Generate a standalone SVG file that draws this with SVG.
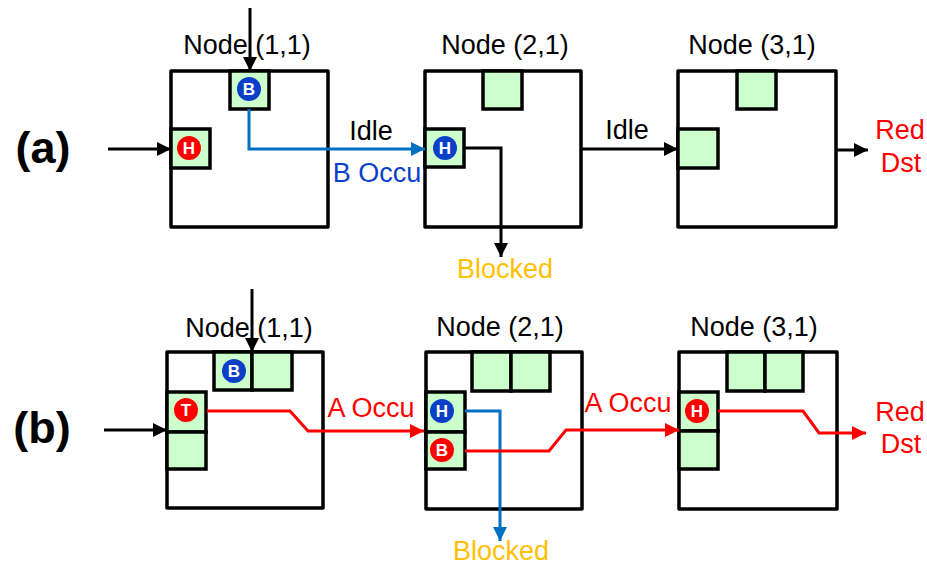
<svg xmlns="http://www.w3.org/2000/svg" width="927" height="567" viewBox="0 0 927 567">
<defs>
<style>
text{font-family:"Liberation Sans",Arial,sans-serif;}
.box{fill:#fff;stroke:#000;stroke-width:3.5;stroke-linejoin:round;}
.buf{fill:#CCFFCC;stroke:#000;stroke-width:3.5;}
.t{font-size:27px;text-anchor:middle;fill:#000;}
.lbl{font-size:45px;font-weight:bold;text-anchor:middle;fill:#000;}
.red{fill:#FF0000;}
.blue{fill:#0B3FC8;}
.org{fill:#FFC000;}
.cb{fill:#0B3FC8;}
.cr{fill:#FF0000;}
.ct{font-size:17px;font-weight:bold;fill:#fff;text-anchor:middle;}
.k{fill:none;stroke:#000;stroke-width:3;}
.bl{fill:none;stroke:#0070C0;stroke-width:3;}
.rd{fill:none;stroke:#FF0000;stroke-width:3;}
</style>
<marker id="ak" markerUnits="userSpaceOnUse" markerWidth="16" markerHeight="16" refX="14" refY="7" orient="auto"><path d="M0,0 L14,7 L0,14 Z" fill="#000"/></marker>
<marker id="ab" markerUnits="userSpaceOnUse" markerWidth="16" markerHeight="16" refX="14" refY="7" orient="auto"><path d="M0,0 L14,7 L0,14 Z" fill="#0070C0"/></marker>
<marker id="ar" markerUnits="userSpaceOnUse" markerWidth="16" markerHeight="16" refX="14" refY="7" orient="auto"><path d="M0,0 L14,7 L0,14 Z" fill="#FF0000"/></marker>
</defs>
<rect width="927" height="567" fill="#fff"/>

<text class="lbl" x="43" y="163">(a)</text>
<text class="lbl" x="42" y="443">(b)</text>

<!-- Row (a) -->
<g id="a-node11">
<rect class="box" x="171" y="71" width="157" height="156"/>
<rect class="buf" x="230" y="71" width="39" height="38"/>
<rect class="buf" x="171" y="129" width="39" height="39"/>
<circle class="cb" cx="249" cy="89" r="12"/>
<text class="ct" x="249" y="95">B</text>
<circle class="cr" cx="189" cy="148" r="12"/>
<text class="ct" x="189" y="154">H</text>
<text class="t" x="247" y="54">Node (1,1)</text>
</g>
<g id="a-node21">
<rect class="box" x="425" y="71" width="156" height="156"/>
<rect class="buf" x="483" y="71" width="39" height="38"/>
<rect class="buf" x="425" y="129" width="39" height="38"/>
<circle class="cb" cx="445" cy="148" r="12"/>
<text class="ct" x="445" y="154">H</text>
<text class="t" x="505" y="54">Node (2,1)</text>
</g>
<g id="a-node31">
<rect class="box" x="678" y="71" width="158" height="156"/>
<rect class="buf" x="737" y="71" width="39" height="38"/>
<rect class="buf" x="678" y="129" width="40" height="39"/>
<text class="t" x="752" y="54">Node (3,1)</text>
</g>

<!-- Row (b) -->
<g id="b-node11">
<rect class="box" x="167" y="352" width="156" height="156"/>
<rect class="buf" x="214" y="352" width="38" height="38"/>
<rect class="buf" x="252" y="352" width="40" height="38"/>
<rect class="buf" x="167" y="392" width="39" height="40"/>
<rect class="buf" x="167" y="432" width="39" height="37"/>
<circle class="cb" cx="234" cy="371" r="12"/>
<text class="ct" x="234" y="377">B</text>
<circle class="cr" cx="186" cy="410" r="12"/>
<text class="ct" x="186" y="416">T</text>
<text class="t" x="249" y="337">Node (1,1)</text>
</g>
<g id="b-node21">
<rect class="box" x="426" y="352" width="156" height="157"/>
<rect class="buf" x="472" y="352" width="39" height="39"/>
<rect class="buf" x="511" y="352" width="39" height="39"/>
<rect class="buf" x="426" y="392" width="39" height="40"/>
<rect class="buf" x="426" y="432" width="39" height="37"/>
<circle class="cb" cx="442" cy="411" r="12"/>
<text class="ct" x="442" y="417">H</text>
<circle class="cr" cx="442" cy="450" r="12"/>
<text class="ct" x="442" y="456">B</text>
<text class="t" x="500" y="336">Node (2,1)</text>
</g>
<g id="b-node31">
<rect class="box" x="679" y="352" width="158" height="157"/>
<rect class="buf" x="727" y="352" width="38" height="39"/>
<rect class="buf" x="765" y="352" width="38" height="39"/>
<rect class="buf" x="679" y="392" width="39" height="39"/>
<rect class="buf" x="679" y="431" width="39" height="38"/>
<circle class="cr" cx="697" cy="411" r="12"/>
<text class="ct" x="697" y="417">H</text>
<text class="t" x="754" y="336">Node (3,1)</text>
</g>

<g id="connectors">
<!-- row a -->
<line class="k" x1="250" y1="8" x2="250" y2="71" marker-end="url(#ak)"/>
<line class="k" x1="108" y1="149" x2="171" y2="149" marker-end="url(#ak)"/>
<polyline class="bl" points="249,109 249,149 425,149" marker-end="url(#ab)"/>
<polyline class="k" points="464,148 501,148 501,257" marker-end="url(#ak)"/>
<line class="k" x1="581" y1="149" x2="678" y2="149" marker-end="url(#ak)"/>
<line class="k" x1="836" y1="150" x2="868" y2="150" marker-end="url(#ak)"/>
<!-- row b -->
<line class="k" x1="252" y1="289" x2="252" y2="352" marker-end="url(#ak)"/>
<line class="k" x1="104" y1="430" x2="167" y2="430" marker-end="url(#ak)"/>
<polyline class="rd" points="207,411 290,411 308,431 424,431" marker-end="url(#ar)"/>
<polyline class="bl" points="465,411 500,411 500,541" marker-end="url(#ab)"/>
<polyline class="rd" points="465,451 549,451 566,430 679,430" marker-end="url(#ar)"/>
<polyline class="rd" points="718,411 803,411 819,433 866,433" marker-end="url(#ar)"/>
</g>

<g id="labels">
<text class="t" x="371" y="140">Idle</text>
<text class="t blue" x="377" y="182">B Occu</text>
<text class="t org" x="505" y="278">Blocked</text>
<text class="t" x="627" y="139">Idle</text>
<text class="t red" x="900" y="139">Red</text>
<text class="t red" x="901" y="172">Dst</text>
<text class="t red" x="371" y="417">A Occu</text>
<text class="t red" x="628" y="412">A Occu</text>
<text class="t org" x="501" y="560">Blocked</text>
<text class="t red" x="900" y="421">Red</text>
<text class="t red" x="901" y="453">Dst</text>
</g>
</svg>
